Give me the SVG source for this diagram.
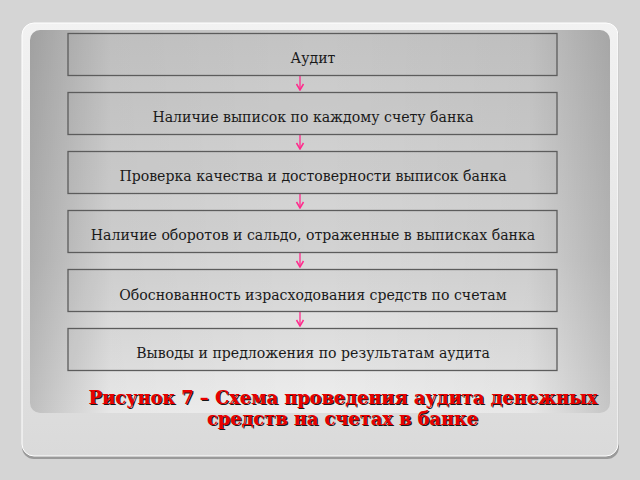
<svg xmlns="http://www.w3.org/2000/svg" width="640" height="480" viewBox="0 0 640 480">
<defs>
<linearGradient id="card" x1="0" y1="0" x2="0" y2="1">
<stop offset="0" stop-color="#f2f2f2"/>
<stop offset="1" stop-color="#dadada"/>
</linearGradient>
<linearGradient id="panel" x1="0" y1="0" x2="0" y2="1">
<stop offset="0" stop-color="#c8c8c8"/>
<stop offset="0.6" stop-color="#d8d8d8"/>
<stop offset="1" stop-color="#eeeeee"/>
</linearGradient>
<linearGradient id="sides" x1="0" y1="0" x2="1" y2="0">
<stop offset="0" stop-color="#000" stop-opacity="0.2"/>
<stop offset="0.14" stop-color="#000" stop-opacity="0.03"/>
<stop offset="0.5" stop-color="#000" stop-opacity="0"/>
<stop offset="0.86" stop-color="#000" stop-opacity="0.03"/>
<stop offset="1" stop-color="#000" stop-opacity="0.17"/>
</linearGradient>
<marker id="arr" viewBox="0 0 10 10" refX="9" refY="5" markerWidth="10" markerHeight="10" markerUnits="userSpaceOnUse" orient="auto">
<path d="M3,1.5 L9,5 L3,8.5" fill="none" stroke="#ff2a8c" stroke-width="1.5"/>
</marker>
</defs>
<style>
.box{fill:#000;fill-opacity:0.02;stroke:#5c5c5c;stroke-width:1.3}
.lbl{font-family:"DejaVu Serif",serif;font-size:14.1px;fill:#1a1a1a;text-anchor:middle}
.cap{font-family:"DejaVu Serif",serif;font-size:17.8px;font-weight:bold;text-anchor:middle}
.conn{stroke:#ff2a8c;stroke-width:1.3;fill:none}
</style>
<rect width="640" height="480" fill="#d5d5d5"/>
<g id="frame">
<rect x="22" y="25" width="597" height="434" rx="12" fill="#9a9a9a"/>
<rect x="22" y="23" width="596" height="433" rx="12" fill="url(#card)"/>
<rect x="22" y="23" width="596" height="433" rx="12" fill="none" stroke="#ffffff" stroke-width="1"/>
<rect x="30" y="30" width="580" height="383" rx="10" fill="url(#panel)"/>
<rect x="30" y="30" width="580" height="383" rx="10" fill="url(#sides)"/>
</g>
<g id="connectors">
<line class="conn" x1="300" y1="76" x2="300" y2="90" marker-end="url(#arr)"/>
<line class="conn" x1="300" y1="135" x2="300" y2="149" marker-end="url(#arr)"/>
<line class="conn" x1="300" y1="194" x2="300" y2="208" marker-end="url(#arr)"/>
<line class="conn" x1="300" y1="253" x2="300" y2="267" marker-end="url(#arr)"/>
<line class="conn" x1="300" y1="312" x2="300" y2="326" marker-end="url(#arr)"/>
</g>
<g id="n1"><rect class="box" x="68" y="33.5" width="489" height="42"/><text class="lbl" x="313" y="63">Аудит</text></g>
<g id="n2"><rect class="box" x="68" y="92.5" width="489" height="42"/><text class="lbl" x="313" y="122">Наличие выписок по каждому счету банка</text></g>
<g id="n3"><rect class="box" x="68" y="151.5" width="489" height="42"/><text class="lbl" x="313" y="181">Проверка качества и достоверности выписок банка</text></g>
<g id="n4"><rect class="box" x="68" y="210.5" width="489" height="42"/><text class="lbl" x="313" y="240">Наличие оборотов и сальдо, отраженные в выписках банка</text></g>
<g id="n5"><rect class="box" x="68" y="269.5" width="489" height="42"/><text class="lbl" x="313" y="300">Обоснованность израсходования средств по счетам</text></g>
<g id="n6"><rect class="box" x="68" y="328.5" width="489" height="42"/><text class="lbl" x="313" y="358">Выводы и предложения по результатам аудита</text></g>
<g id="caption">
<text class="cap" fill="#1a1a1a" x="344.2" y="405.2">Рисунок 7 – Схема проведения аудита денежных</text>
<text class="cap" fill="#1a1a1a" x="343.7" y="426.2">средств на счетах в банке</text>
<text class="cap" fill="#e80000" x="343" y="404">Рисунок 7 – Схема проведения аудита денежных</text>
<text class="cap" fill="#e80000" x="342.5" y="425">средств на счетах в банке</text>
</g>
</svg>
